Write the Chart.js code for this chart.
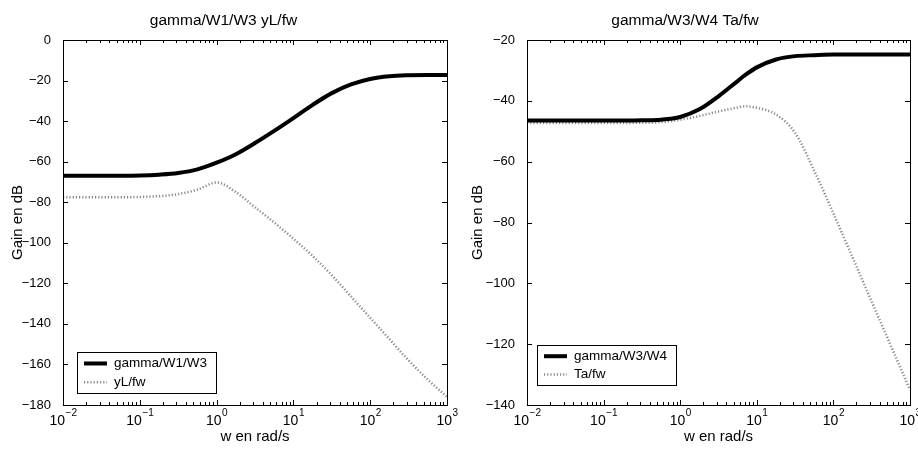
<!DOCTYPE html>
<html>
<head>
<meta charset="utf-8">
<script src="https://cdn.jsdelivr.net/npm/chart.js@4.4.1/dist/chart.umd.min.js"></script>
<style>
  body { margin: 0; background: #fff; }
  .box { position: absolute; top: 0; height: 452px; }
</style>
</head>
<body>
<div class="box" style="left:0;width:459px"><canvas id="graf1" width="459" height="452"></canvas></div>
<div class="box" style="left:460px;width:458px"><canvas id="graf2" width="458" height="452"></canvas></div>
<script>
// pulsations (rad/s) et gains
const w_gauche = [0.01, 0.0316, 0.1, 0.178, 0.316, 0.562, 1, 1.78, 3.16, 5.62, 10, 17.8, 31.6, 56.2, 100, 178, 316, 562, 1000];
const gain_W1W3 = [-67, -67, -66.8, -66.4, -65.6, -63.8, -60.5, -56.3, -50.8, -44.8, -38.5, -32, -26.2, -21.9, -19.2, -17.9, -17.4, -17.2, -17.2];
const gain_yLfw = [-77.6, -77.6, -77.4, -77, -76, -73.8, -70.3, -75, -82.5, -90, -98, -106.5, -116, -126.5, -137, -147.5, -158, -167.5, -176];

const w_droite = [0.01, 0.1, 0.316, 0.562, 1, 1.78, 3.16, 5.62, 7.08, 10, 17.8, 31.6, 56.2, 100, 178, 316, 562, 1000];
const gain_W3W4 = [-46.5, -46.5, -46.4, -46.2, -45.3, -42.8, -38.5, -33.5, -31.5, -29, -26.4, -25.3, -25, -24.8, -24.8, -24.8, -24.8, -24.8];
const gain_Tafw = [-47.3, -47.3, -47.2, -47, -46.2, -45, -43.5, -42.2, -41.8, -42.3, -44.5, -50.5, -63, -77, -91.5, -106, -120.5, -135];

const xTicks = [0.01, 0.1, 1, 10, 100, 1000];
const xTickExp = ['\u22122', '\u22121', '0', '1', '2', '3'];

const police = '"Liberation Sans", Arial, sans-serif';
Chart.defaults.font.family = police;
Chart.defaults.color = '#000';

// cadre, graduations internes, étiquettes 10^n et légende façon matlab
const cadreMatlab = {
    id: 'cadreMatlab',
    afterDatasetsDraw(chart, args, opts) {
        const ctx = chart.ctx;
        const a = chart.chartArea;
        const sx = chart.scales.x;
        const sy = chart.scales.y;
        ctx.save();
        ctx.strokeStyle = '#000';
        ctx.lineWidth = 1;
        ctx.beginPath();
        for (let d = -2; d <= 3; d++) {
            for (let m = 1; m <= 9; m++) {
                const v = m * Math.pow(10, d);
                if (v > 1000) break;
                const px = Math.round(sx.getPixelForValue(v)) + 0.5;
                const len = m === 1 ? 5 : 3;
                ctx.moveTo(px, a.bottom); ctx.lineTo(px, a.bottom - len);
                ctx.moveTo(px, a.top); ctx.lineTo(px, a.top + len);
            }
        }
        sy.ticks.forEach(function (t) {
            const py = Math.round(sy.getPixelForValue(t.value)) + 0.5;
            ctx.moveTo(a.left, py); ctx.lineTo(a.left + 5, py);
            ctx.moveTo(a.right, py); ctx.lineTo(a.right - 5, py);
        });
        ctx.stroke();
        ctx.strokeRect(Math.round(a.left) + 0.5, Math.round(a.top) + 0.5, Math.round(a.right - a.left), Math.round(a.bottom - a.top));

        // étiquettes de l'axe x
        ctx.fillStyle = '#000';
        ctx.textBaseline = 'alphabetic';
        ctx.textAlign = 'left';
        xTicks.forEach(function (v, i) {
            const px = sx.getPixelForValue(v);
            ctx.font = '14px ' + police;
            const w10 = ctx.measureText('10').width;
            ctx.font = '10px ' + police;
            const wExp = ctx.measureText(xTickExp[i]).width;
            const x0 = px - (w10 + wExp) / 2;
            ctx.font = '14px ' + police;
            ctx.fillText('10', x0, a.bottom + 20);
            ctx.font = '10px ' + police;
            ctx.fillText(xTickExp[i], x0 + w10 + 0.5, a.bottom + 11);
        });

        // légende
        const ds = chart.data.datasets;
        ctx.font = '13.5px ' + police;
        let largeur = 0;
        ds.forEach(function (d) { largeur = Math.max(largeur, ctx.measureText(d.label).width); });
        const bx = a.left + opts.dx;
        const bh = opts.h;
        const by = a.bottom - opts.dy - bh;
        const bw = 37 + largeur + 9;
        ctx.fillStyle = '#fff';
        ctx.fillRect(bx, by, bw, bh);
        ctx.strokeRect(Math.round(bx) + 0.5, Math.round(by) + 0.5, Math.round(bw), bh);
        ds.forEach(function (d, i) {
            const ly = by + bh * (0.28 + 0.46 * i);
            ctx.beginPath();
            ctx.strokeStyle = d.borderColor;
            ctx.lineWidth = d.borderWidth;
            ctx.setLineDash(d.borderDash || []);
            ctx.moveTo(bx + 7, ly); ctx.lineTo(bx + 30, ly);
            ctx.stroke();
            ctx.setLineDash([]);
            ctx.fillStyle = '#000';
            ctx.textBaseline = 'middle';
            ctx.fillText(d.label, bx + 37, ly);
        });
        ctx.restore();
    }
};

function tracer(id, titre, w, serie1, serie2, label1, label2, yMin, yMax, padDroite, largeurY, legende) {
    new Chart(document.getElementById(id), {
        type: 'line',
        data: {
            labels: w,
            datasets: [{
                label: label1,
                data: w.map(function (x, i) { return { x: x, y: serie1[i] }; }),
                borderColor: '#000',
                borderWidth: 4,
                pointRadius: 0,
                cubicInterpolationMode: 'monotone'
            }, {
                label: label2,
                data: w.map(function (x, i) { return { x: x, y: serie2[i] }; }),
                borderColor: '#8a8a8a',
                borderWidth: 2.5,
                borderDash: [1.2, 2],
                pointRadius: 0,
                cubicInterpolationMode: 'monotone'
            }]
        },
        options: {
            responsive: false,
            animation: false,
            layout: { padding: { left: 0, right: padDroite, top: 0, bottom: 0 } },
            plugins: {
                legend: { display: false },
                tooltip: { enabled: false },
                title: {
                    display: true,
                    text: titre,
                    font: { size: 15.5, weight: 'normal' },
                    color: '#000',
                    padding: { top: 11, bottom: 10.4 }
                },
                cadreMatlab: legende
            },
            scales: {
                x: {
                    type: 'logarithmic',
                    min: 0.01,
                    max: 1000,
                    grid: { display: false },
                    border: { display: false },
                    afterBuildTicks: function (scale) {
                        scale.ticks = xTicks.map(function (v) { return { value: v }; });
                    },
                    afterFit: function (scale) {
                        scale.height = 47;
                        scale.paddingLeft = 0;
                        scale.paddingRight = 0;
                    },
                    ticks: { display: false },
                    title: {
                        display: true,
                        text: 'w en rad/s',
                        font: { size: 15 },
                        padding: { top: 0, bottom: 6 }
                    }
                },
                y: {
                    min: yMin,
                    max: yMax,
                    grid: { display: false },
                    border: { display: false },
                    afterFit: function (scale) {
                        scale.width = largeurY;
                        scale.paddingTop = 0;
                        scale.paddingBottom = 0;
                    },
                    ticks: {
                        stepSize: 20,
                        padding: 4,
                        font: { size: 13 },
                        callback: function (v) { return String(v).replace('-', '\u2212'); }
                    },
                    title: {
                        display: true,
                        text: 'Gain en dB',
                        font: { size: 15 },
                        padding: { top: 9, bottom: 0 }
                    }
                }
            }
        },
        plugins: [cadreMatlab]
    });
}

tracer('graf1', 'gamma/W1/W3 yL/fw', w_gauche, gain_W1W3, gain_yLfw, 'gamma/W1/W3', 'yL/fw',
    -180, 0, 12, 63, { dx: 14, dy: 12, h: 41 });
tracer('graf2', 'gamma/W3/W4 Ta/fw', w_droite, gain_W3W4, gain_Tafw, 'gamma/W3/W4', 'Ta/fw',
    -140, -20, 8, 67, { dx: 10, dy: 20, h: 40 });
</script>
</body>
</html>
